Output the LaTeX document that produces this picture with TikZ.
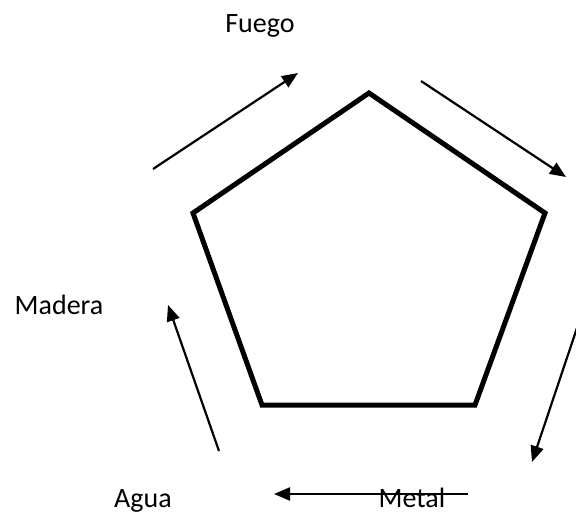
\documentclass[tikz,border=0pt]{standalone}
\usepackage{fontspec}
\setmainfont{Carlito}
\usetikzlibrary{arrows.meta}
\begin{document}
\begin{tikzpicture}[x=1pt,y=-1pt,
  penta/.style={line width=5pt,line join=miter},
  cyc/.style={line width=2.2pt,-{Triangle[length=16pt,width=13pt]}},
  lbl/.style={font=\fontsize{28}{33}\selectfont,anchor=base,inner sep=0pt}]
\clip (0,0) rectangle (576,515);
\fill[white] (0,0) rectangle (576,515);
% pentagon
\coordinate (T) at (369,93);
\coordinate (R) at (545,213);
\coordinate (BR) at (475,405);
\coordinate (BL) at (262,405);
\coordinate (L) at (193,213);
\draw[penta] (T) -- (R) -- (BR) -- (BL) -- (L) -- cycle;
% arrow ends
\coordinate (a1s) at (153,169); \coordinate (a1e) at (298,73);
\coordinate (a2s) at (421,81);  \coordinate (a2e) at (566,177);
\coordinate (a3s) at (581,316); \coordinate (a3e) at (532,462);
\coordinate (a4s) at (468,494); \coordinate (a4e) at (274,494);
\coordinate (a5s) at (219,451); \coordinate (a5e) at (168,305);
\draw[cyc] (a1s) -- (a1e);
\draw[cyc] (a2s) -- (a2e);
\draw[cyc] (a3s) -- (a3e);
\draw[cyc] (a5s) -- (a5e);
% labels
\node[lbl] (fuego) at (260,32) {Fuego};
\node[lbl] (madera) at (59,314) {Madera};
\node[lbl] (agua) at (143,507) {Agua};
\node[lbl] (metal) at (412,507) {Metal};
\draw[cyc] (a4s) -- (a4e);
\end{tikzpicture}
\end{document}
